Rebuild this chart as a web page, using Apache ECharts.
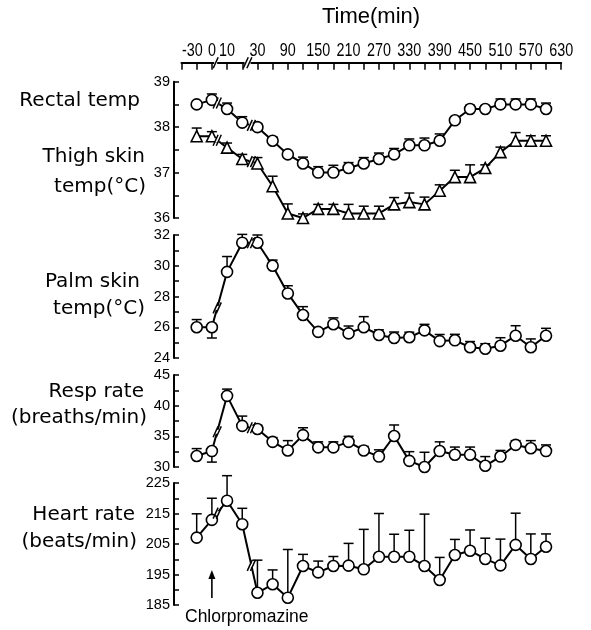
<!DOCTYPE html>
<html><head><meta charset="utf-8">
<script src="https://cdn.jsdelivr.net/npm/echarts@6/dist/echarts.min.js"></script>
<style>html,body{margin:0;padding:0;background:#fff}#c{width:591px;height:630px}</style>
</head><body><div id="c"></div>
<script>
// axis slots (first one is the axis start, unlabeled)
const categories = ['-60','-30','0','10','20','30','60','90','120','150','180','210','240','270','300','330','360','390','420','450','480','510','540','570','600','630'];
const tickLabels = ['-30','0','10','30','90','150','210','270','330','390','450','510','570','630'];
const times = ['-30','0','10','20','30','60','90','120','150','180','210','240','270','300','330','360','390','420','450','480','510','540','570','600'];

const rectal    = [38.5, 38.6, 38.4, 38.1, 38.0, 37.7, 37.4, 37.2, 37.0, 37.0, 37.1, 37.2, 37.3, 37.4, 37.6, 37.6, 37.7, 38.15, 38.4, 38.4, 38.5, 38.5, 38.5, 38.4];
const rectalErr = [0.05, 0.13, 0.13, 0.13, 0.08, 0.08, 0.06, 0.14, 0.13, 0.16, 0.12, 0.13, 0.13, 0.13, 0.14, 0.16, 0.15, 0.06, 0.08, 0.06, 0.12, 0.12, 0.12, 0.13];
const thigh     = [37.8, 37.8, 37.55, 37.3, 37.2, 36.7, 36.1, 36.0, 36.2, 36.2, 36.1, 36.1, 36.1, 36.3, 36.35, 36.3, 36.6, 36.9, 36.9, 37.1, 37.45, 37.7, 37.7, 37.7];
const thighErr  = [0.18, 0.1, 0.1, 0.1, 0.13, 0.22, 0.21, 0.09, 0.1, 0.1, 0.2, 0.16, 0.16, 0.15, 0.2, 0.16, 0.13, 0.15, 0.27, 0.07, 0.11, 0.18, 0.11, 0.11];
const palm      = [26.0, 26.0, 29.6, 31.5, 31.5, 30.0, 28.2, 26.8, 25.7, 26.2, 25.6, 26.0, 25.5, 25.3, 25.35, 25.8, 25.1, 25.15, 24.7, 24.6, 24.8, 25.45, 24.7, 25.45];
const palmErr   = [0.5, -0.7, 1.0, 0.54, 0.5, 0.37, 0.5, 0.54, 0.2, 0.41, 0.48, 0.69, 0.33, 0.39, 0.33, 0.39, 0.43, 0.39, 0.37, 0.33, 0.52, 0.65, 0.54, 0.48];
const resp      = [31.8, 32.6, 41.6, 36.7, 36.2, 34.1, 32.7, 35.2, 33.2, 33.2, 34.1, 32.7, 31.7, 35.05, 31.0, 30.0, 32.6, 32.0, 32.0, 30.2, 31.7, 33.6, 33.05, 32.6];
const respErr   = [1.2, -1.8, 1.1, 1.6, 0.6, 0.7, 1.6, 1.2, 0.9, 0.9, 0.9, 0.65, 1.1, 1.8, 1.5, 2.4, 1.5, 1.25, 1.25, 1.5, 1.0, 0.7, 1.25, 1.0];
const hr        = [207.1, 212.9, 219.2, 211.5, 189.0, 191.8, 187.4, 197.8, 195.7, 197.8, 197.9, 196.7, 200.8, 200.8, 200.8, 197.8, 193.2, 201.4, 202.8, 200.1, 198.0, 204.7, 200.1, 204.1];
const hrErr     = [7.8, 7.1, 8.2, 5.2, 10.7, 4.7, 15.8, 3.8, 3.7, 3.1, 7.3, 13.1, 14.2, 7.4, 8.7, 17.0, 7.4, 5.1, 6.8, 6.8, 8.6, 10.4, 8.2, 4.2];

const chart = echarts.init(document.getElementById('c'), null, {renderer: 'canvas'});
const BLACK = '#000';
const grids = [
  {left: 181.5, right: 29.8, top: 81.7, height: 136.3},
  {left: 181.5, right: 29.8, top: 235, height: 123},
  {left: 181.5, right: 29.8, top: 375, height: 92},
  {left: 181.5, right: 29.8, top: 483, height: 122}
];
const yCfg = [
  {min: 36, max: 39, interval: 0.5, fmt: v => (v % 1 === 0 ? String(v) : '')},
  {min: 24, max: 32, interval: 1, fmt: v => (v % 2 === 0 ? String(v) : '')},
  {min: 30, max: 45, interval: 2.5, fmt: v => (v % 5 === 0 ? String(v) : '')},
  {min: 185, max: 225, interval: 5, fmt: v => ((v - 185) % 10 === 0 ? String(v) : '')}
];
const AXIS_OFF = 19;

const xAxes = grids.map((g, i) => ({
  type: 'category', gridIndex: i, data: categories, boundaryGap: false,
  position: 'top', offset: i === 0 ? AXIS_OFF : 0, show: i === 0,
  axisLine: {show: true, lineStyle: {color: BLACK, width: 2}},
  axisTick: {show: true, inside: true, length: 7, interval: 0, lineStyle: {color: BLACK, width: 1.5}},
  axisLabel: {show: false},
  splitLine: {show: false}
}));

const yAxes = yCfg.map((c, i) => ({
  type: 'value', gridIndex: i, min: c.min, max: c.max, interval: c.interval,
  position: 'left', offset: 7.5,
  axisLine: {show: true, lineStyle: {color: BLACK, width: 2}},
  axisTick: {show: true, inside: true, length: 5, lineStyle: {color: BLACK, width: 1.5}},
  axisLabel: {margin: 4, color: BLACK, fontFamily: 'Liberation Sans', fontSize: 14.5, formatter: c.fmt},
  splitLine: {show: false}
}));

function errRender(params, api) {
  const x = api.value(0);
  const p0 = api.coord([x, api.value(1)]);
  const p1 = api.coord([x, api.value(2)]);
  const w = 5;
  return {type: 'group', children: [
    {type: 'line', shape: {x1: p0[0], y1: p0[1], x2: p1[0], y2: p1[1]}, style: {stroke: BLACK, lineWidth: 1.5}},
    {type: 'line', shape: {x1: p1[0] - w, y1: p1[1], x2: p1[0] + w, y2: p1[1]}, style: {stroke: BLACK, lineWidth: 1.5}}
  ]};
}
function errSeries(vals, errs, gi) {
  return {type: 'custom', xAxisIndex: gi, yAxisIndex: gi, renderItem: errRender, z: 1, clip: false,
    encode: {x: 0, y: [1, 2]}, silent: true,
    data: times.map((t, k) => [t, vals[k], vals[k] + errs[k]])};
}
function lineSeries(vals, gi, sym, size) {
  return {type: 'line', xAxisIndex: gi, yAxisIndex: gi, z: 3, clip: false, silent: true,
    symbol: sym, symbolSize: size, showAllSymbol: true,
    itemStyle: {color: '#fff', borderColor: BLACK, borderWidth: 1.6},
    lineStyle: {color: BLACK, width: 2},
    data: times.map((t, k) => [t, vals[k]])};
}

const panels = [
  {vals: rectal, errs: rectalErr, gi: 0, sym: 'circle', size: 11},
  {vals: thigh, errs: thighErr, gi: 0, sym: 'triangle', size: 11},
  {vals: palm, errs: palmErr, gi: 1, sym: 'circle', size: 11},
  {vals: resp, errs: respErr, gi: 2, sym: 'circle', size: 11},
  {vals: hr, errs: hrErr, gi: 3, sym: 'circle', size: 11}
];
const series = [];
panels.forEach(p => {
  series.push(errSeries(p.vals, p.errs, p.gi));
  series.push(lineSeries(p.vals, p.gi, p.sym, p.size));
});

const LF = 'DejaVu Sans';
function txt(text, x, y, align, size, fam, vAlign, sx) {
  return {type: 'text', x: x, y: y, z: 10, scaleX: sx || 1, style: {text: text, fill: BLACK, align: align, verticalAlign: vAlign || 'middle',
    font: size + 'px "' + (fam || LF) + '"'}};
}
const labels = [
  txt('Time(min)', 371, 17, 'center', 22, 'Liberation Sans'),
  txt('Rectal temp', 140, 101, 'right', 20),
  txt('Thigh skin', 145, 157, 'right', 20),
  txt('temp(°C)', 146, 187, 'right', 20),
  txt('Palm skin', 140, 282, 'right', 20),
  txt('temp(°C)', 145, 309, 'right', 20),
  txt('Resp rate', 144, 392, 'right', 20),
  txt('(breaths/min)', 147, 418, 'right', 20),
  txt('Heart rate', 135, 515, 'right', 20),
  txt('(beats/min)', 137, 542, 'right', 20),
  txt('Chlorpromazine', 185, 617, 'left', 17.5, 'Liberation Sans')
];

chart.setOption({
  animation: false,
  backgroundColor: '#fff',
  grid: grids,
  xAxis: xAxes,
  yAxis: yAxes,
  series: series
});

const extra = [];
const axY = grids[0].top - AXIS_OFF;
function xPix(cat) { return chart.convertToPixel({xAxisIndex: 0}, cat); }

// top-axis tick labels placed through the category axis (minus sign hangs to the left)
tickLabels.forEach(l => {
  if (l.charAt(0) === '-') {
    extra.push(txt(l, xPix(l) + 6, axY - 3, 'right', 17.5, 'Liberation Sans', 'bottom', 0.82));
  } else {
    extra.push(txt(l, xPix(l), axY - 3, 'center', 17.5, 'Liberation Sans', 'bottom', 0.82));
  }
});

// arrow at drug administration (time 0)
const a0 = chart.convertToPixel({xAxisIndex: 3, yAxisIndex: 3}, ['0', 187.3]);
const a1 = chart.convertToPixel({xAxisIndex: 3, yAxisIndex: 3}, ['0', 196.5]);
extra.push({type: 'line', z: 10, shape: {x1: a0[0], y1: a0[1], x2: a1[0], y2: a1[1] + 6}, style: {stroke: BLACK, lineWidth: 1.6}});
extra.push({type: 'polygon', z: 10, shape: {points: [[a1[0], a1[1]], [a1[0] - 3.5, a1[1] + 9], [a1[0] + 3.5, a1[1] + 9]]}, style: {fill: BLACK}});

function slash(x, y, z) {
  return {type: 'line', z: z || 10, shape: {x1: x - 2.5, y1: y + 5.5, x2: x + 2.5, y2: y - 5.5}, style: {stroke: BLACK, lineWidth: 1.5}};
}
function gap(x, y, w, h) {
  return {type: 'rect', z: 9, shape: {x: x - w / 2, y: y - h / 2, width: w, height: h}, style: {fill: '#fff'}};
}
// axis break marks
const b1 = xPix('0') + (xPix('10') - xPix('0')) * 0.25;
extra.push(gap(b1, axY, 3, 4), slash(b1, axY));
const b2 = xPix('20') + (xPix('30') - xPix('20')) * 0.35;
extra.push(gap(b2, axY, 6, 4), slash(b2 - 1.8, axY), slash(b2 + 1.8, axY));

// break marks on the data lines (0->10 and 20->30 segments)
panels.forEach(p => {
  [['0', '10', 0.35], ['20', '30', 0.6]].forEach(([c0, c1, f]) => {
    const k0 = times.indexOf(c0), k1 = times.indexOf(c1);
    const q0 = chart.convertToPixel({xAxisIndex: p.gi, yAxisIndex: p.gi}, [c0, p.vals[k0]]);
    const q1 = chart.convertToPixel({xAxisIndex: p.gi, yAxisIndex: p.gi}, [c1, p.vals[k1]]);
    const mx = q0[0] + (q1[0] - q0[0]) * f, my = q0[1] + (q1[1] - q0[1]) * f;
    extra.push(gap(mx, my, 4, 4), slash(mx - 1.6, my, 11), slash(mx + 1.6, my, 11));
  });
});

chart.setOption({graphic: labels.concat(extra)});
</script>
</body></html>
